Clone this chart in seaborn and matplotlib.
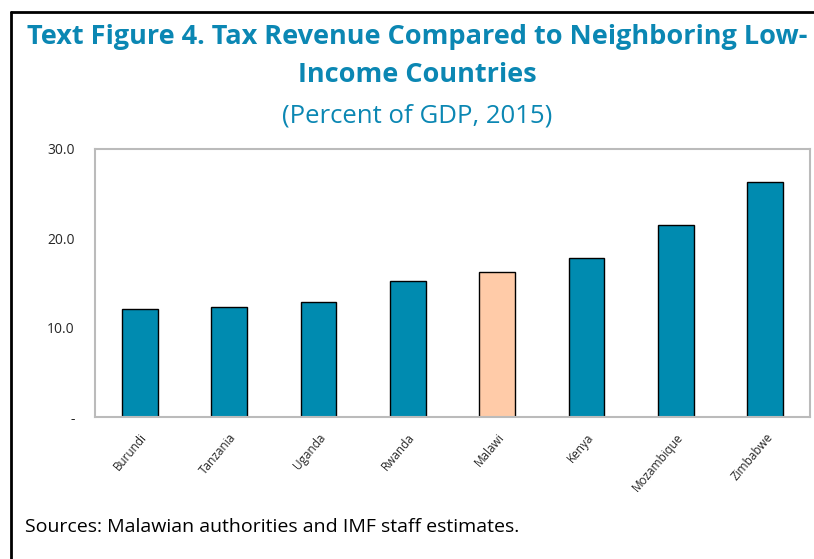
import seaborn as sns
import pandas as pd
import matplotlib.pyplot as plt
from matplotlib.lines import Line2D

countries = ['Burundi', 'Tanzania', 'Uganda', 'Rwanda', 'Malawi', 'Kenya', 'Mozambique', 'Zimbabwe']
tax_revenue = [12.1, 12.3, 12.9, 15.2, 16.2, 17.8, 21.5, 26.3]
bar_colors = ['#008BB0'] * 4 + ['#FFCBA8'] + ['#008BB0'] * 3
yticks = [0, 10, 20, 30]
ytick_labels = ['-', '10.0', '20.0', '30.0']

teal = '#0B87B3'
sns.set_style('white')
plt.rcParams['font.family'] = ['Open Sans', 'DejaVu Sans']

df = pd.DataFrame({'country': countries, 'tax': tax_revenue})

fig = plt.figure(figsize=(8.14, 5.59), dpi=100)
ax = fig.add_axes([0.1167, 0.254, 0.8784, 0.4795])
sns.barplot(data=df, x='country', y='tax', hue='country', palette=bar_colors,
            legend=False, width=0.4, edgecolor='black', linewidth=1, saturation=1, ax=ax)

ax.set_xlim(-0.5, 7.5)
ax.set_ylim(0, 30)
ax.set_yticks(yticks)
ax.set_yticklabels(ytick_labels, fontsize=10)
ax.set_xticks(range(len(countries)))
ax.set_xticklabels(countries, rotation=50, ha='right', rotation_mode='anchor', fontsize=8.5)
ax.set_xticks([i + 0.5 for i in range(len(countries) - 1)], minor=True)
ax.tick_params(axis='x', which='major', length=0, pad=10)
ax.tick_params(axis='x', which='minor', length=4, direction='in', color='#BBBBBB', width=1)
ax.tick_params(axis='y', length=4, direction='in', color='#BBBBBB', width=1, pad=14.5)
ax.set_xlabel('')
ax.set_ylabel('')
for s in ax.spines.values():
    s.set_color('#BBBBBB')
    s.set_linewidth(1.5)

cx = 417 / 814
fig.text(cx, 1 - 37 / 559, 'Text Figure 4. Tax Revenue Compared to Neighboring Low-',
         ha='center', va='center', fontsize=19.5, fontweight='bold', color=teal)
fig.text(cx, 1 - 75 / 559, 'Income Countries',
         ha='center', va='center', fontsize=19.5, fontweight='bold', color=teal)
fig.text(cx, 1 - 116 / 559, '(Percent of GDP, 2015)',
         ha='center', va='center', fontsize=18.5, color=teal)
fig.text(25 / 814, 1 - 527 / 559, 'Sources: Malawian authorities and IMF staff estimates.',
         ha='left', va='center', fontsize=14, color='black')

# outer frame
fig.add_artist(Line2D([11 / 814, 11 / 814], [0, 1 - 12 / 559], color='black', lw=2))
fig.add_artist(Line2D([11 / 814, 1], [1 - 12 / 559, 1 - 12 / 559], color='black', lw=2))

plt.savefig('out.png', dpi=100)
plt.close()
